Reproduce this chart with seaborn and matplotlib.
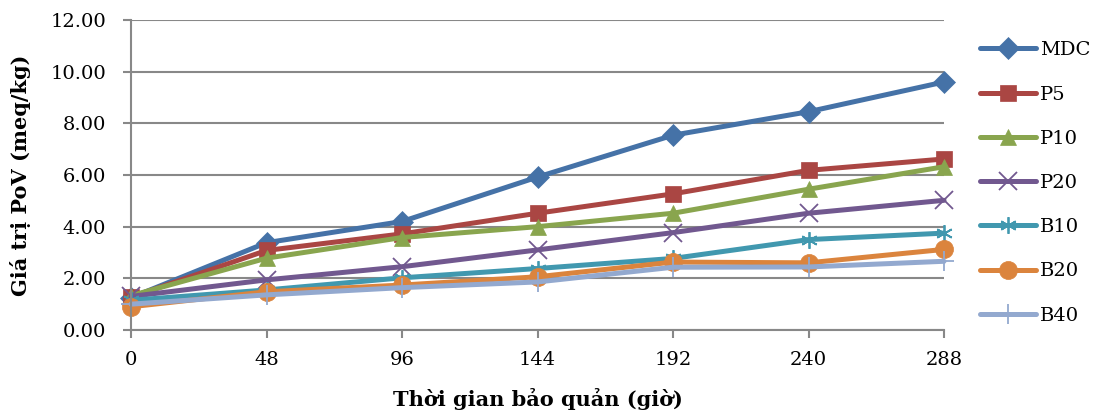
import matplotlib
matplotlib.use("Agg")
import matplotlib.pyplot as plt
import seaborn as sns
import pandas as pd
from matplotlib.ticker import FormatStrFormatter

# storage time (hours)
times = [0, 48, 96, 144, 192, 240, 288]

# PoV values (meq/kg)
mdc = [1.25, 3.38, 4.20, 5.92, 7.54, 8.45, 9.60]
p5 = [1.27, 3.08, 3.72, 4.52, 5.27, 6.18, 6.62]
p10 = [1.33, 2.78, 3.58, 4.00, 4.52, 5.45, 6.32]
p20 = [1.30, 1.94, 2.45, 3.10, 3.77, 4.52, 5.02]
b10 = [1.15, 1.55, 2.02, 2.38, 2.77, 3.50, 3.75]
b20 = [0.90, 1.48, 1.74, 2.06, 2.63, 2.60, 3.12]
b40 = [1.00, 1.36, 1.64, 1.86, 2.43, 2.44, 2.66]

samples = ["MDC", "P5", "P10", "P20", "B10", "B20", "B40"]
series = [mdc, p5, p10, p20, b10, b20, b40]

colors = ["#4572A7", "#AA4643", "#89A54E", "#71588F", "#4198AF", "#DB843D", "#93A9CF"]
markers = ["D", "s", "^", "x", (6, 2, 0), "o", "+"]
msizes = [11, 11, 12, 13, 12, 13, 14]

rows = []
for name, vals in zip(samples, series):
    for t, v in zip(times, vals):
        rows.append({"time": t, "pov": v, "sample": name})
df = pd.DataFrame(rows)

sns.set_style("white")
plt.rcParams["font.family"] = ["DejaVu Serif"]

fig = plt.figure(figsize=(11.06, 4.17), dpi=100)
ax = fig.add_axes([131 / 1106, 1 - 330 / 417, (944 - 131) / 1106, (330 - 20) / 417])

sns.lineplot(data=df, x="time", y="pov", hue="sample", hue_order=samples,
             palette=dict(zip(samples, colors)), linewidth=3.6, legend=False, ax=ax)

lines = ax.lines[:len(samples)]
for ln, c, m, ms in zip(lines, colors, markers, msizes):
    ln.set_marker(m)
    ln.set_markersize(ms)
    ln.set_markerfacecolor(c)
    ln.set_markeredgecolor(c)
    ln.set_markeredgewidth(1.3 if m in ("x", "+", (6, 2, 0)) else 0.5)
    ln.set_clip_on(False)
    ln.set_solid_capstyle("round")

ax.set_xlim(0, 288)
ax.set_ylim(0, 12)
ax.set_xticks(times)
ax.set_yticks(range(0, 13, 2))
ax.yaxis.set_major_formatter(FormatStrFormatter("%.2f"))
ax.grid(axis="y", color="#888888", linewidth=1.5)
ax.set_axisbelow(True)
for s in ["top", "right"]:
    ax.spines[s].set_visible(False)
for s in ["left", "bottom"]:
    ax.spines[s].set_color("#888888")
    ax.spines[s].set_linewidth(1.5)
ax.tick_params(axis="both", which="major", length=6, width=1.5, color="#888888",
               labelsize=14, labelcolor="black", direction="out")
ax.tick_params(axis="y", pad=12)
ax.tick_params(axis="x", pad=9)
ax.tick_params(left=True, bottom=True)

ax.set_xlabel("Thời gian bảo quản (giờ)", fontsize=15, fontweight="bold",
              color="black", labelpad=14)
ax.set_ylabel("Giá trị PoV (meq/kg)", fontsize=15, fontweight="bold",
              color="black", labelpad=14)

leg = ax.legend(lines, samples, loc="center left", bbox_to_anchor=(980 / 1106, 1 - 183 / 417),
                bbox_transform=fig.transFigure, frameon=False, fontsize=14,
                handlelength=2.9, handletextpad=0.2, labelspacing=1.35, borderpad=0,
                borderaxespad=0)
for t in leg.get_texts():
    t.set_color("black")

fig.savefig("out.png", dpi=100)
